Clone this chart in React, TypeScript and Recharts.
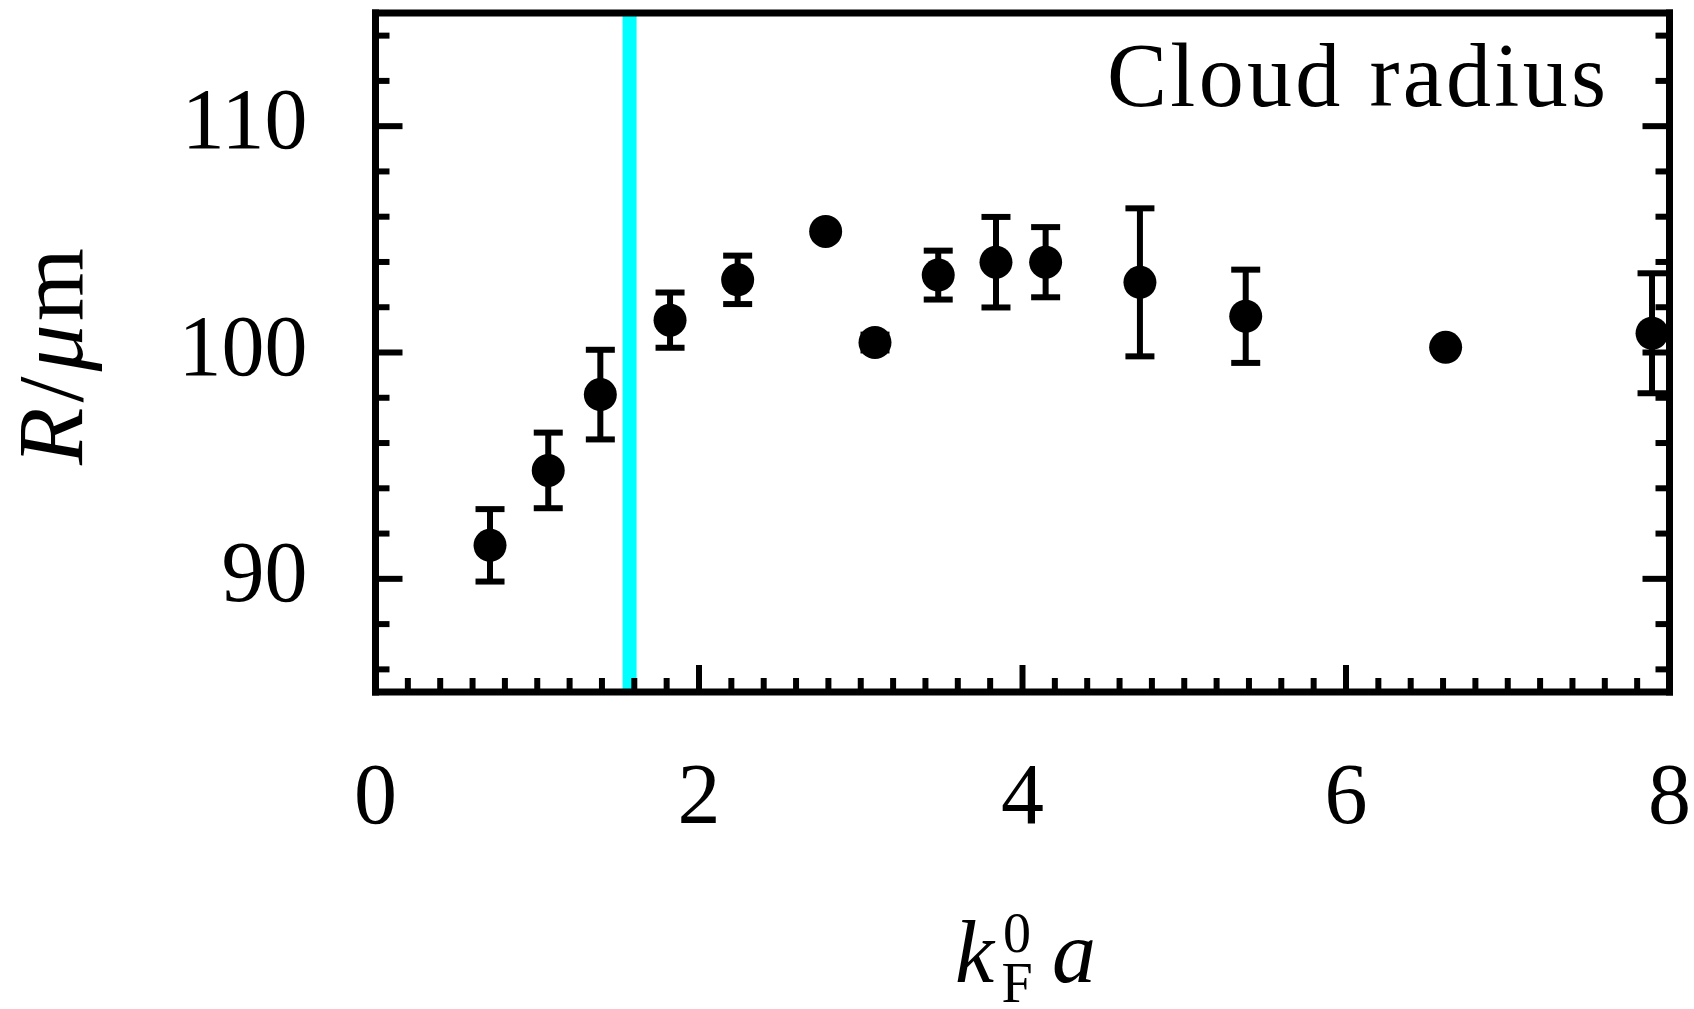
import { ScatterChart, Scatter, XAxis, YAxis, ErrorBar, ReferenceLine, Customized } from 'recharts';

const kFa = [0.708, 1.068, 1.39, 1.821, 2.239, 2.783, 3.088, 3.479, 3.836, 4.143, 4.726, 5.38, 6.616, 7.892];
const radius = [91.48, 94.79, 98.14, 101.43, 103.21, 105.35, 100.44, 103.42, 103.99, 103.99, 103.1, 101.6, 100.23, 100.85];
const radiusErr = [1.6, 1.67, 1.98, 1.22, 1.07, 0, 0.35, 1.08, 2.0, 1.55, 3.27, 2.06, 0, 2.65];

const xTicks = [0, 0.2, 0.4, 0.6, 0.8, 1, 1.2, 1.4, 1.6, 1.8, 2, 2.2, 2.4, 2.6, 2.8, 3, 3.2, 3.4, 3.6, 3.8, 4,
  4.2, 4.4, 4.6, 4.8, 5, 5.2, 5.4, 5.6, 5.8, 6, 6.2, 6.4, 6.6, 6.8, 7, 7.2, 7.4, 7.6, 7.8, 8];
const xMajor = [0, 2, 4, 6, 8];
const yTicks = [86, 88, 90, 92, 94, 96, 98, 100, 102, 104, 106, 108, 110, 112, 114];
const yMajor = [90, 100, 110];
const unitarityX = 1.5708;

const data = kFa.map((x, i) => ({ x, r: radius[i], err: radiusErr[i] }));

const W = 1694;
const H = 1009;
const PLOT_LEFT = 375.5;
const PLOT_RIGHT = 1669.5;
const PLOT_TOP = 13;
const PLOT_BOTTOM = 692;

const FONT = '"Liberation Serif", "DejaVu Serif", serif';
const frame = { stroke: '#000', strokeWidth: 7, strokeLinecap: 'square' as const };
const TICK_W = 6;
const len = (major: boolean) => (major ? 27 : 14);

function BottomTick({ x, y, payload }: any) {
  const major = xMajor.includes(payload.value);
  return (
    <g>
      <line x1={x} x2={x} y1={y} y2={y - len(major)} stroke="#000" strokeWidth={TICK_W} />
      {major && (
        <text x={x} y={y + 131} textAnchor="middle" fontSize={86} fontFamily={FONT} fill="#000">
          {payload.value}
        </text>
      )}
    </g>
  );
}

function TopTick({ x, y, payload }: any) {
  const major = xMajor.includes(payload.value);
  return <line x1={x} x2={x} y1={y} y2={y + len(major)} stroke="#000" strokeWidth={TICK_W} />;
}

function LeftTick({ x, y, payload }: any) {
  const major = yMajor.includes(payload.value);
  return (
    <g>
      <line x1={x} x2={x + len(major)} y1={y} y2={y} stroke="#000" strokeWidth={TICK_W} />
      {major && (
        <text x={x - 68} y={y + 22} textAnchor="end" fontSize={86} fontFamily={FONT} fill="#000">
          {payload.value}
        </text>
      )}
    </g>
  );
}

function RightTick({ x, y, payload }: any) {
  const major = yMajor.includes(payload.value);
  return <line x1={x} x2={x - len(major)} y1={y} y2={y} stroke="#000" strokeWidth={TICK_W} />;
}

function Annotations() {
  const cy = (PLOT_TOP + PLOT_BOTTOM) / 2 + 4;
  return (
    <g fontFamily={FONT} fill="#000">
      <text x={1107} y={106} fontSize={90} textLength={499} lengthAdjust="spacing">Cloud radius</text>
      <text x={82} y={cy} fontSize={94} textAnchor="middle" transform={`rotate(-90, 82, ${cy})`}>
        <tspan fontStyle="italic">R</tspan>
        <tspan dx={5}>/</tspan>
        <tspan dx={5} fontStyle="italic">μ</tspan>
        <tspan dx={3}>m</tspan>
      </text>
      <text x={955} y={982} fontSize={88} fontStyle="italic">k</text>
      <text x={1017} y={952} fontSize={56} textAnchor="middle">0</text>
      <text x={1017} y={1002} fontSize={56} textAnchor="middle">F</text>
      <text x={1052} y={982} fontSize={88} fontStyle="italic">a</text>
    </g>
  );
}

export default function App() {
  return (
    <div style={{ position: 'absolute', left: 0, top: 0, background: '#fff' }}>
      <ScatterChart
        width={W}
        height={H}
        margin={{ top: PLOT_TOP - 1, right: W - PLOT_RIGHT - 1, bottom: 0, left: 0 }}
      >
        <XAxis
          dataKey="x"
          type="number"
          domain={[0, 8]}
          allowDataOverflow
          ticks={xTicks}
          interval={0}
          height={H - PLOT_BOTTOM}
          tickSize={0}
          tickMargin={0}
          tickLine={false}
          axisLine={frame}
          tick={<BottomTick />}
        />
        <XAxis
          xAxisId="top"
          orientation="top"
          type="number"
          domain={[0, 8]}
          allowDataOverflow
          ticks={xTicks}
          interval={0}
          height={1}
          tickSize={0}
          tickMargin={0}
          tickLine={false}
          axisLine={frame}
          tick={<TopTick />}
        />
        <YAxis
          dataKey="r"
          type="number"
          domain={[85, 115]}
          allowDataOverflow
          ticks={yTicks}
          interval={0}
          width={PLOT_LEFT}
          tickSize={0}
          tickMargin={0}
          tickLine={false}
          axisLine={frame}
          tick={<LeftTick />}
        />
        <YAxis
          yAxisId="right"
          orientation="right"
          type="number"
          domain={[85, 115]}
          allowDataOverflow
          ticks={yTicks}
          interval={0}
          width={1}
          tickSize={0}
          tickMargin={0}
          tickLine={false}
          axisLine={frame}
          tick={<RightTick />}
        />
        <ReferenceLine x={unitarityX} stroke="#00ffff" strokeWidth={14} />
        <Scatter
          data={data}
          isAnimationActive={false}
          fill="#000"
          shape={(p: any) => <circle cx={p.cx} cy={p.cy} r={16.5} fill="#000" />}
        >
          <ErrorBar dataKey="err" direction="y" width={14.5} strokeWidth={6} stroke="#000" isAnimationActive={false} />
        </Scatter>
        <Customized component={Annotations} />
      </ScatterChart>
    </div>
  );
}
